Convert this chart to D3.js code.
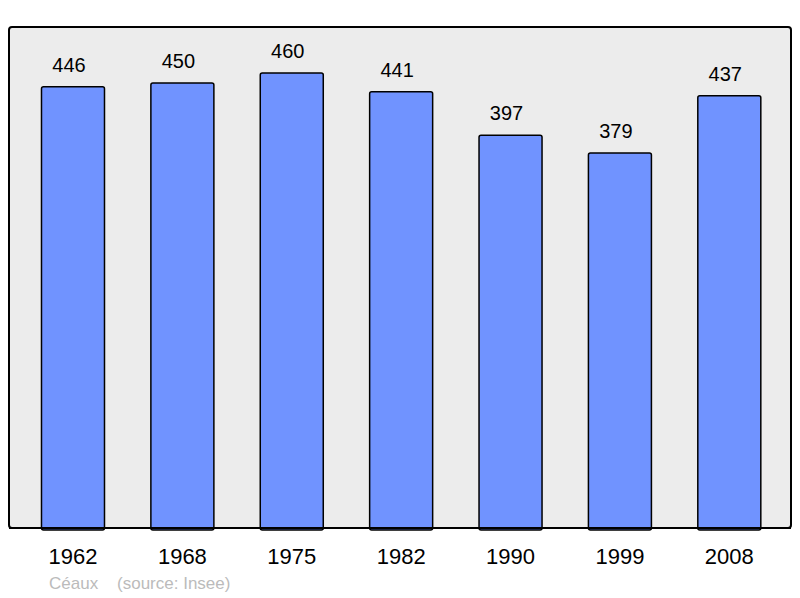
<!DOCTYPE html>
<html>
<head>
<meta charset="utf-8">
<script src="https://cdn.jsdelivr.net/npm/d3@7"></script>
<style>
  body { margin: 0; background: #fff; }
  svg { display: block; font-family: "Liberation Sans", Arial, sans-serif; }
</style>
</head>
<body>
<div id="chart"></div>
<script>
// data
const years = ["1962", "1968", "1975", "1982", "1990", "1999", "2008"];
const population = [446, 450, 460, 441, 397, 379, 437];
const commune = "Céaux";
const source = "(source: Insee)";

const width = 800;
const height = 598;

const svg = d3.select("#chart").append("svg")
    .attr("width", width)
    .attr("height", height);

// grey panel
svg.append("rect")
    .attr("x", 9)
    .attr("y", 27)
    .attr("width", 782)
    .attr("height", 501)
    .attr("rx", 3)
    .attr("fill", "#ececec")
    .attr("stroke", "#000")
    .attr("stroke-width", 2);

const x = d3.scaleBand()
    .domain(years)
    .range([18.3, 784])
    .paddingInner(0.424)
    .paddingOuter(0.212);

const y = d3.scaleLinear()
    .domain([0, 460])
    .range([528, 73]);

const bars = svg.append("g")
    .selectAll()
    .data(years)
    .join("g");

bars.append("rect")
    .attr("x", d => x(d))
    .attr("y", (d, i) => y(population[i]))
    .attr("width", x.bandwidth())
    .attr("height", (d, i) => y(0) - y(population[i]) + 2)
    .attr("rx", 2)
    .attr("fill", "#7093ff")
    .attr("stroke", "#000")
    .attr("stroke-width", 1.5);

bars.append("text")
    .attr("x", d => x(d) + x.bandwidth() / 2 - 4)
    .attr("y", (d, i) => y(population[i]) - 15)
    .attr("text-anchor", "middle")
    .attr("font-size", 20)
    .attr("fill", "#000")
    .text((d, i) => population[i]);

// redraw panel border on top of bar bottoms
svg.append("line")
    .attr("x1", 9).attr("x2", 791)
    .attr("y1", 528).attr("y2", 528)
    .attr("stroke", "#000")
    .attr("stroke-width", 2);

// year axis labels
const xAxis = svg.append("g")
    .attr("transform", "translate(0,528)")
    .call(d3.axisBottom(x).tickSize(0).tickPadding(0));
xAxis.select(".domain").remove();
xAxis.selectAll("text")
    .attr("y", 36)
    .attr("dy", null)
    .attr("font-size", 22)
    .attr("font-family", "Liberation Sans, Arial, sans-serif")
    .attr("fill", "#000");

svg.append("text")
    .attr("x", 49)
    .attr("y", 589)
    .attr("font-size", 17)
    .attr("fill", "#bbbbbb")
    .attr("xml:space", "preserve")
    .text(commune + "    " + source);
</script>
</body>
</html>
